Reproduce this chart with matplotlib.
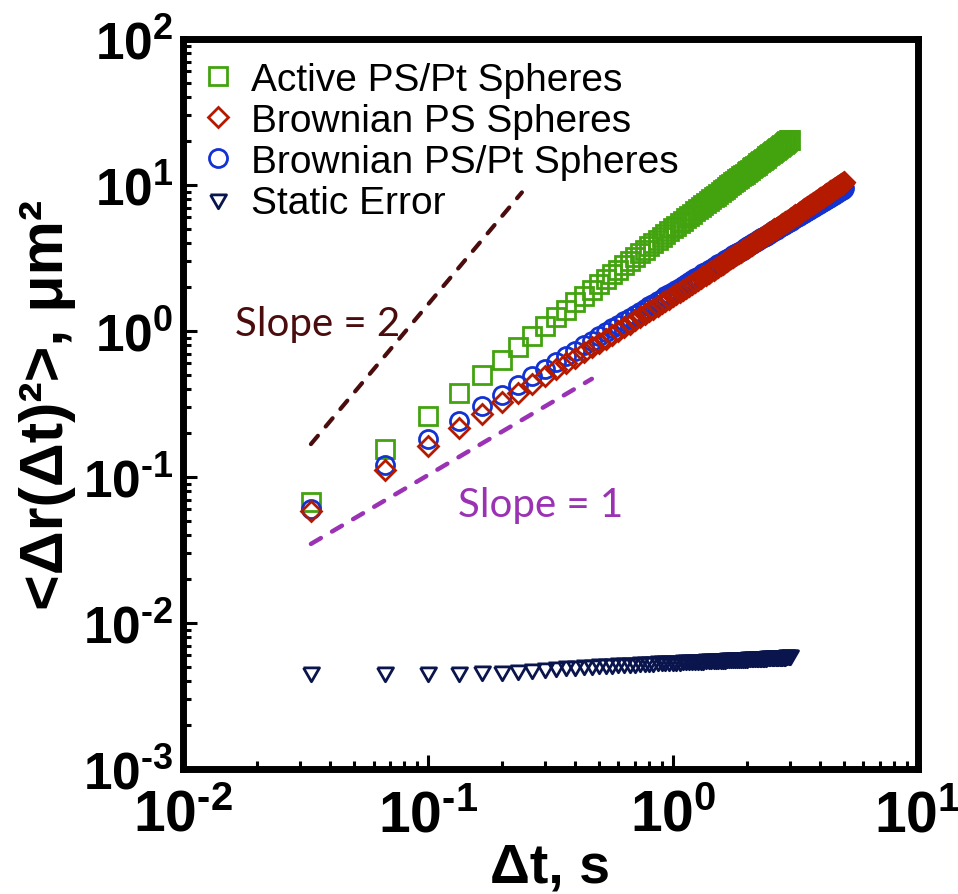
import numpy as np
import matplotlib.pyplot as plt
from matplotlib.ticker import FuncFormatter, LogLocator

plt.rcParams['mathtext.fontset'] = 'custom'
plt.rcParams['mathtext.bf'] = 'Liberation Sans:bold'
plt.rcParams['mathtext.rm'] = 'Liberation Sans'

frame_time = 1 / 30  # seconds per video frame, lag = n * frame_time

active_msd = [
    0.067, 0.155, 0.262, 0.376, 0.500, 0.635, 0.780, 0.930, 1.09, 1.25,
    1.40, 1.57, 1.74, 1.91, 2.09, 2.26, 2.45, 2.63, 2.82, 3.01,
    3.20, 3.40, 3.60, 3.80, 4.00, 4.20, 4.41, 4.62, 4.83, 5.05,
    5.26, 5.48, 5.70, 5.92, 6.14, 6.37, 6.59, 6.82, 7.05, 7.28,
    7.51, 7.75, 7.98, 8.22, 8.46, 8.70, 8.94, 9.19, 9.43, 9.68,
    9.93, 10.17, 10.42, 10.68, 10.93, 11.18, 11.44, 11.69, 11.95, 12.21,
    12.47, 12.73, 12.99, 13.26, 13.52, 13.79, 14.05, 14.32, 14.59, 14.86,
    15.13, 15.40, 15.68, 15.95, 16.22, 16.50, 16.78, 17.06, 17.34, 17.62,
    17.90, 18.18, 18.46, 18.75, 19.03, 19.32, 19.61, 19.89, 20.18, 20.47,
]

brownian_ps_msd = [
    0.0585, 0.1115, 0.164, 0.217, 0.271, 0.325, 0.379, 0.434, 0.489, 0.545,
    0.601, 0.658, 0.715, 0.772, 0.829, 0.887, 0.946, 1.004, 1.063, 1.122,
    1.182, 1.242, 1.301, 1.362, 1.423, 1.485, 1.545, 1.607, 1.668, 1.730,
    1.794, 1.855, 1.919, 1.981, 2.046, 2.108, 2.173, 2.236, 2.302, 2.366,
    2.430, 2.496, 2.561, 2.628, 2.693, 2.758, 2.824, 2.892, 2.958, 3.025,
    3.091, 3.158, 3.225, 3.292, 3.359, 3.427, 3.495, 3.563, 3.631, 3.700,
    3.768, 3.837, 3.907, 3.976, 4.046, 4.116, 4.186, 4.253, 4.323, 4.394,
    4.465, 4.536, 4.604, 4.675, 4.747, 4.820, 4.892, 4.960, 5.033, 5.106,
    5.179, 5.253, 5.322, 5.396, 5.470, 5.544, 5.614, 5.689, 5.758, 5.834,
    5.909, 5.979, 6.055, 6.126, 6.202, 6.279, 6.350, 6.427, 6.498, 6.575,
    6.653, 6.725, 6.803, 6.875, 6.953, 7.026, 7.105, 7.177, 7.257, 7.330,
    7.403, 7.482, 7.556, 7.636, 7.710, 7.784, 7.864, 7.939, 8.020, 8.094,
    8.169, 8.250, 8.325, 8.407, 8.483, 8.558, 8.641, 8.716, 8.799, 8.875,
    8.951, 9.035, 9.111, 9.187, 9.272, 9.348, 9.425, 9.502, 9.587, 9.672,
    9.750, 9.827, 9.905, 9.982, 10.07, 10.15, 10.23, 10.30, 10.38, 10.47,
]

brownian_pspt_msd = [
    0.0604, 0.121, 0.182, 0.243, 0.304, 0.365, 0.427, 0.488, 0.550, 0.611,
    0.673, 0.735, 0.796, 0.858, 0.920, 0.982, 1.044, 1.106, 1.168, 1.231,
    1.293, 1.355, 1.417, 1.480, 1.542, 1.605, 1.667, 1.728, 1.792, 1.854,
    1.917, 1.979, 2.041, 2.105, 2.167, 2.229, 2.293, 2.355, 2.417, 2.481,
    2.543, 2.605, 2.670, 2.732, 2.794, 2.859, 2.921, 2.983, 3.048, 3.111,
    3.173, 3.235, 3.300, 3.363, 3.425, 3.487, 3.553, 3.615, 3.678, 3.740,
    3.802, 3.868, 3.931, 3.993, 4.056, 4.118, 4.184, 4.247, 4.309, 4.372,
    4.434, 4.501, 4.564, 4.626, 4.689, 4.751, 4.818, 4.881, 4.943, 5.006,
    5.069, 5.136, 5.199, 5.261, 5.324, 5.387, 5.455, 5.517, 5.580, 5.643,
    5.705, 5.768, 5.836, 5.899, 5.962, 6.024, 6.087, 6.156, 6.219, 6.282,
    6.344, 6.407, 6.476, 6.539, 6.602, 6.665, 6.728, 6.791, 6.860, 6.923,
    6.986, 7.049, 7.112, 7.182, 7.245, 7.308, 7.371, 7.434, 7.497, 7.567,
    7.630, 7.693, 7.756, 7.819, 7.882, 7.953, 8.016, 8.079, 8.142, 8.205,
    8.269, 8.332, 8.403, 8.466, 8.529, 8.592, 8.655, 8.719, 8.782, 8.845,
    8.917, 8.980, 9.043, 9.106, 9.170, 9.233, 9.296, 9.359, 9.423, 9.486,
]

static_error = [
    0.00458, 0.00460, 0.00462, 0.00464, 0.00467, 0.00472, 0.00480, 0.00487, 0.00494, 0.00500,
    0.00505, 0.00509, 0.00513, 0.00517, 0.00521, 0.00524, 0.00527, 0.00530, 0.00532, 0.00534,
    0.00536, 0.00538, 0.00540, 0.00542, 0.00543, 0.00545, 0.00546, 0.00548, 0.00549, 0.00550,
    0.00552, 0.00553, 0.00554, 0.00556, 0.00557, 0.00558, 0.00559, 0.00560, 0.00561, 0.00562,
    0.00563, 0.00564, 0.00565, 0.00566, 0.00567, 0.00568, 0.00569, 0.00570, 0.00571, 0.00572,
    0.00572, 0.00573, 0.00574, 0.00575, 0.00576, 0.00577, 0.00578, 0.00578, 0.00579, 0.00580,
    0.00581, 0.00582, 0.00582, 0.00583, 0.00584, 0.00585, 0.00585, 0.00586, 0.00587, 0.00588,
    0.00588, 0.00589, 0.00590, 0.00590, 0.00591, 0.00592, 0.00592, 0.00593, 0.00594, 0.00594,
    0.00595, 0.00596, 0.00596, 0.00597, 0.00598, 0.00598, 0.00599, 0.00600, 0.00600, 0.00601,
]

# guide lines
slope2_t = [0.0333, 0.242]
slope2_msd = [0.168, 8.9]
slope1_t = [0.0333, 0.467]
slope1_msd = [0.0348, 0.47]


def lags(values):
    return np.arange(1, len(values) + 1) * frame_time


def decade_label(v, pos):
    # short hyphen in the exponent instead of the wide math minus
    e = int(round(np.log10(v)))
    return r'$\mathbf{10^{%s}}$' % (('\u2010%d' % -e) if e < 0 else str(e))


green = '#43a30f'
red = '#b31a00'
blue = '#1232d2'
navy = '#0b154d'
maroon = '#4a0c0c'
purple = '#9b32b3'

fig = plt.figure(figsize=(9.58, 8.95), dpi=100)
ax = fig.add_axes([0.191, 0.1397, 0.767, 0.8156])
ax.set_xscale('log')
ax.set_yscale('log')

dash = (0, (2.6, 2.9))
ax.plot(slope2_t, slope2_msd, color=maroon, lw=3, ls=dash, dash_capstyle='round')
ax.plot(slope1_t, slope1_msd, color=purple, lw=3.2, ls=dash, dash_capstyle='round')

tri = [(-1, 0.577), (1, 0.577), (0, -1.155), (-1, 0.577)]
mk = dict(ls='none', mfc='none', mew=2)
h_act, = ax.plot(lags(active_msd), active_msd, marker='s', ms=13, mec=green, **mk)
h_pt, = ax.plot(lags(brownian_pspt_msd), brownian_pspt_msd, marker='o', ms=13, mec=blue, **mk)
h_ps, = ax.plot(lags(brownian_ps_msd), brownian_ps_msd, marker='D', ms=10, mec=red, **mk)
h_st, = ax.plot(lags(static_error), static_error, marker=tri, ms=13.3, mec=navy, **mk)

ax.text(0.0163, 1.12, 'Slope = 2', color=maroon, fontsize=29, family='Lato',
        ha='left', va='center')
ax.text(0.1327, 0.0653, 'Slope = 1', color=purple, fontsize=29, family='Lato',
        ha='left', va='center')

ax.legend([h_act, h_ps, h_pt, h_st],
          ['Active PS/Pt Spheres', 'Brownian PS Spheres',
           'Brownian PS/Pt Spheres', 'Static Error'],
          loc='upper left', bbox_to_anchor=(0.2077, 0.930),
          bbox_transform=fig.transFigure, frameon=False, numpoints=1,
          prop={'family': 'Liberation Sans', 'size': 28},
          borderpad=0, borderaxespad=0, handlelength=1.0,
          handletextpad=0.35, labelspacing=0.13)

ax.set_xlim(1e-2, 1e1)
ax.set_ylim(1e-3, 1e2)

for side in ['left', 'right', 'top', 'bottom']:
    ax.spines[side].set_linewidth(5)

ax.xaxis.set_minor_locator(LogLocator(base=10, subs=np.arange(2, 10), numticks=20))
ax.yaxis.set_minor_locator(LogLocator(base=10, subs=np.arange(2, 10), numticks=20))
ax.tick_params(which='both', direction='in', top=False, right=False, width=2.2)
ax.tick_params(which='major', length=10)
ax.tick_params(which='minor', length=6)
ax.xaxis.set_major_formatter(FuncFormatter(decade_label))
ax.yaxis.set_major_formatter(FuncFormatter(decade_label))
ax.tick_params(axis='x', labelsize=41, pad=13)
ax.tick_params(axis='y', labelsize=37, pad=7)

ax.set_xlabel('Δt, s', fontsize=40, fontweight='bold', family='Liberation Sans')
ax.xaxis.set_label_coords(0.5, -0.100)
ax.set_ylabel('<Δr(Δt)²>, μm²', fontsize=44, fontweight='bold',
              family='Liberation Sans')
ax.yaxis.set_label_coords(-0.145, 0.5)

fig.savefig('out.png', dpi=100)
